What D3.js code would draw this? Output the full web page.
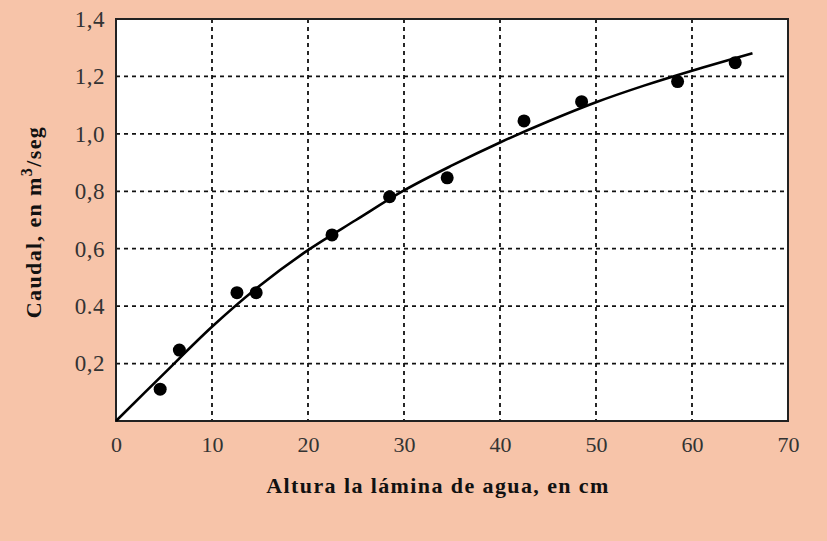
<!DOCTYPE html>
<html>
<head>
<meta charset="utf-8">
<script src="https://cdn.jsdelivr.net/npm/d3@7"></script>
<style>
  html, body { margin: 0; padding: 0; background: #f7c4a9; }
  svg { display: block; }
</style>
</head>
<body>
<svg id="chart" width="827" height="541"></svg>
<script>
// measured points: water height (cm) vs flow (m3/seg)
const alturaCm = [4.6, 6.6, 12.6, 14.6, 22.5, 28.5, 34.5, 42.5, 48.5, 58.5, 64.5];
const caudal = [0.111, 0.247, 0.447, 0.447, 0.648, 0.781, 0.847, 1.045, 1.112, 1.182, 1.248];

// fitted curve
const curvaX = [0, 5, 10, 15, 20, 25, 30, 35, 40, 45, 50, 55, 60, 66.3];
const curvaY = [0, 0.165, 0.328, 0.472, 0.595, 0.70, 0.803, 0.89, 0.97, 1.043, 1.11, 1.168, 1.22, 1.281];

const xTicks = [0, 10, 20, 30, 40, 50, 60, 70];
const yTicks = [0.2, 0.4, 0.6, 0.8, 1.0, 1.2, 1.4];
const yTickLabels = ['0,2', '0.4', '0,6', '0,8', '1,0', '1,2', '1,4'];

const serif = '"Liberation Serif", "Times New Roman", serif';
const width = 827, height = 541;
const margin = { top: 19, right: 39, bottom: 120, left: 116 };
const w = width - margin.left - margin.right;
const h = height - margin.top - margin.bottom;

const svg = d3.select('#chart');
const g = svg.append('g').attr('transform', `translate(${margin.left},${margin.top})`);

const x = d3.scaleLinear().domain([0, 70]).range([0, w]);
const y = d3.scaleLinear().domain([0, 1.4]).range([h, 0]);

// plot area
g.append('rect')
  .attr('width', w)
  .attr('height', h)
  .attr('fill', '#fff');

// dashed grid
g.append('g')
  .selectAll('line')
  .data(xTicks.filter(d => d > 0 && d < 70))
  .join('line')
  .attr('x1', d => x(d)).attr('x2', d => x(d))
  .attr('y1', 0).attr('y2', h)
  .attr('stroke', '#111')
  .attr('stroke-width', 1.8)
  .attr('stroke-dasharray', '4,4');

g.append('g')
  .selectAll('line')
  .data(yTicks.filter(d => d < 1.4))
  .join('line')
  .attr('x1', 0).attr('x2', w)
  .attr('y1', d => y(d)).attr('y2', d => y(d))
  .attr('stroke', '#111')
  .attr('stroke-width', 1.8)
  .attr('stroke-dasharray', '4,4');

// border
g.append('rect')
  .attr('width', w)
  .attr('height', h)
  .attr('fill', 'none')
  .attr('stroke', '#222')
  .attr('stroke-width', 2);

// axis labels (text only)
const xAxis = g.append('g')
  .attr('transform', `translate(0,${h})`)
  .call(d3.axisBottom(x).tickValues(xTicks).tickSize(0).tickPadding(15).tickFormat(d3.format('d')));
xAxis.select('.domain').remove();
xAxis.attr('font-family', serif);
xAxis.selectAll('text')
  .attr('font-family', serif)
  .attr('font-size', 22)
  .attr('fill', '#333');

const yAxis = g.append('g')
  .call(d3.axisLeft(y).tickValues(yTicks).tickSize(0).tickPadding(11)
    .tickFormat((d, i) => yTickLabels[i]));
yAxis.select('.domain').remove();
yAxis.attr('font-family', serif);
yAxis.selectAll('text')
  .attr('font-family', serif)
  .attr('font-size', 23)
  .attr('letter-spacing', 0.5)
  .attr('fill', '#333');

// curve
const line = d3.line()
  .x((d, i) => x(curvaX[i]))
  .y(d => y(d))
  .curve(d3.curveCatmullRom);

g.append('path')
  .datum(curvaY)
  .attr('d', line)
  .attr('fill', 'none')
  .attr('stroke', '#000')
  .attr('stroke-width', 2.6);

// points
g.append('g')
  .selectAll('circle')
  .data(alturaCm)
  .join('circle')
  .attr('cx', d => x(d))
  .attr('cy', (d, i) => y(caudal[i]))
  .attr('r', 6.5)
  .attr('fill', '#000');

// x title
svg.append('text')
  .attr('x', 438)
  .attr('y', 493)
  .attr('text-anchor', 'middle')
  .attr('font-family', serif)
  .attr('font-weight', 'bold')
  .attr('font-size', 22)
  .attr('letter-spacing', 1.4)
  .attr('fill', '#111')
  .text('Altura la lámina de agua, en cm');

// y title
const yTitle = svg.append('text')
  .attr('transform', 'translate(41,222) rotate(-90)')
  .attr('text-anchor', 'middle')
  .attr('font-family', serif)
  .attr('font-weight', 'bold')
  .attr('font-size', 22)
  .attr('letter-spacing', 1.4)
  .attr('fill', '#111');
yTitle.append('tspan').text('Caudal, en m');
yTitle.append('tspan').attr('dy', -9).attr('font-size', 16).text('3');
yTitle.append('tspan').attr('dy', 9).text('/seg');
</script>
</body>
</html>
